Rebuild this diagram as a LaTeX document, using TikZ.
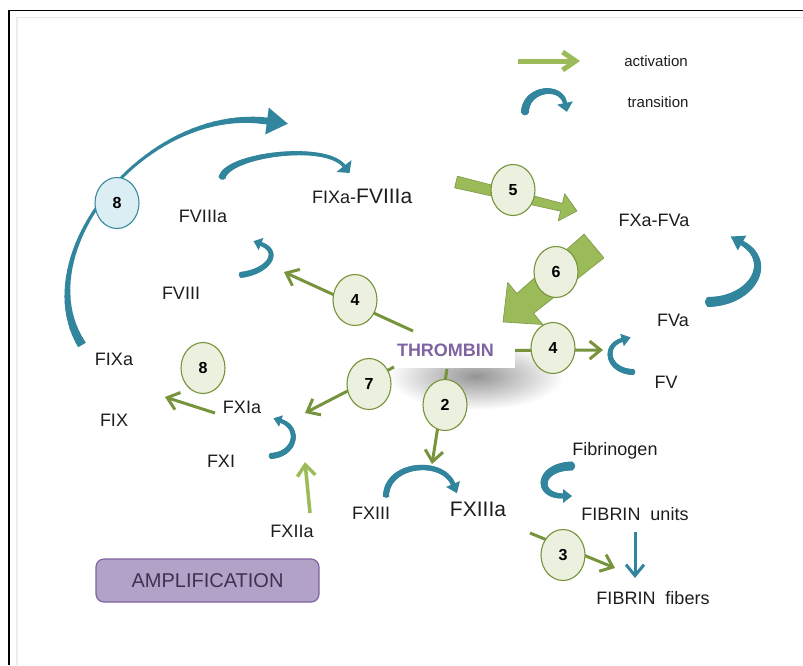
\documentclass[tikz,border=0pt]{standalone}
\usepackage{fontspec}
\setmainfont{Liberation Sans}
\usetikzlibrary{arrows.meta,shapes.geometric}

\definecolor{tealc}{HTML}{31859C}
\definecolor{dgreen}{HTML}{77933C}
\definecolor{lgreen}{HTML}{9BBB59}
\definecolor{cfill}{HTML}{EBF1DE}
\definecolor{bfill}{HTML}{DBEEF4}
\definecolor{bline}{HTML}{4BACC6}
\definecolor{purp}{HTML}{8064A2}
\definecolor{lpurp}{HTML}{B3A2C7}
\definecolor{amptxt}{HTML}{403152}
\definecolor{txt}{HTML}{1E1E1E}

\pgfkeys{/tap/.cd,
  w0/.store in=\tpwa, wm/.store in=\tpwm, w1/.store in=\tpwb,
  hl/.store in=\tphl, hw/.store in=\tphw}

% tapered bent arrow: cubic from (#2,#3) via (#4,#5),(#6,#7) to (#8,#9),
% width varies quadratically w0 -> wm -> w1, triangular head past the end
\def\tapcurve[#1](#2,#3)(#4,#5)(#6,#7)(#8,#9){%
  \pgfkeys{/tap/.cd,w0=6,wm=5,w1=4,hl=10,hw=14,#1}%
  \foreach \k in {0,...,47}{%
    \pgfmathsetmacro\tpta{\k/48}%
    \pgfmathsetmacro\tptb{(\k+1)/48}%
    \pgfmathsetmacro\tpxa{(1-\tpta)^3*(#2)+3*(1-\tpta)^2*\tpta*(#4)+3*(1-\tpta)*\tpta^2*(#6)+\tpta^3*(#8)}%
    \pgfmathsetmacro\tpya{(1-\tpta)^3*(#3)+3*(1-\tpta)^2*\tpta*(#5)+3*(1-\tpta)*\tpta^2*(#7)+\tpta^3*(#9)}%
    \pgfmathsetmacro\tpxb{(1-\tptb)^3*(#2)+3*(1-\tptb)^2*\tptb*(#4)+3*(1-\tptb)*\tptb^2*(#6)+\tptb^3*(#8)}%
    \pgfmathsetmacro\tpyb{(1-\tptb)^3*(#3)+3*(1-\tptb)^2*\tptb*(#5)+3*(1-\tptb)*\tptb^2*(#7)+\tptb^3*(#9)}%
    \pgfmathsetmacro\tpm{(\tpta+\tptb)/2}%
    \pgfmathsetmacro\tpw{\tpwa*(1-\tpm)*(1-2*\tpm)+4*\tpwm*\tpm*(1-\tpm)+\tpwb*\tpm*(2*\tpm-1)}%
    \ifnum\k=0 \def\tpcap{butt}\else\def\tpcap{round}\fi
    \draw[tealc, line width=\tpw pt, line cap=\tpcap] (\tpxa,\tpya) -- (\tpxb,\tpyb);
  }%
  \pgfmathsetmacro\tpdx{(#8)-(#6)}%
  \pgfmathsetmacro\tpdy{(#9)-(#7)}%
  \pgfmathsetmacro\tpdl{sqrt(\tpdx*\tpdx+\tpdy*\tpdy)}%
  \pgfmathsetmacro\tpux{\tpdx/\tpdl}%
  \pgfmathsetmacro\tpuy{\tpdy/\tpdl}%
  \fill[tealc] ({#8-\tpuy*\tphw/2},{#9+\tpux*\tphw/2})
    -- ({#8+\tpux*\tphl},{#9+\tpuy*\tphl})
    -- ({#8+\tpuy*\tphw/2},{#9-\tpux*\tphw/2}) -- cycle;
}

% wide straight arrow: tail (#1,#2), tip (#3,#4), tail width #5,
% shaft width at head #6, head width #7, head length #8
\newcommand\blockarrow[8]{%
  \pgfmathsetmacro\bax{(#3)-(#1)}%
  \pgfmathsetmacro\bay{(#4)-(#2)}%
  \pgfmathsetmacro\bal{sqrt(\bax*\bax+\bay*\bay)}%
  \pgfmathsetmacro\baa{atan2(-\bay,\bax)}%
  \begin{scope}[shift={(#1,#2)},rotate=\baa]
    \filldraw[fill=lgreen, draw=lgreen!80!black, line width=0.6pt, line join=round]
      (0,#5/2) -- (\bal-#8,#6/2) -- (\bal-#8,#7/2) -- (\bal,0)
      -- (\bal-#8,-#7/2) -- (\bal-#8,-#6/2) -- (0,-#5/2) -- cycle;
  \end{scope}}

\tikzset{
  lbl/.style={font=\fontsize{18}{20}\selectfont, text=txt, inner sep=0pt},
  lgd/.style={font=\fontsize{15}{17}\selectfont, text=txt, inner sep=0pt},
  num/.style={ellipse, draw=dgreen, fill=cfill, line width=1.1pt,
    minimum width=44pt, minimum height=51pt, inner sep=0pt,
    font=\bfseries\fontsize{16}{18}\selectfont},
  bnum/.style={num, draw=bline!80!black, fill=bfill},
  garrow/.style={dgreen, line width=3pt, -{Straight Barb[length=11pt,width=18pt]}},
  larrow/.style={lgreen, line width=3.5pt, -{Straight Barb[length=11pt,width=18pt]}},
  tarrow/.style={tealc, line width=3pt, -{Straight Barb[length=11pt,width=18pt]}},
}

\begin{document}
\begin{tikzpicture}[x=1pt,y=-1pt]
\useasboundingbox (0,0) rectangle (803,665);
\fill[white] (0,0) rectangle (803,665);

% frame
\draw[black!8, line width=1.5pt] (17,665) -- (17,17.5) -- (803,17.5);
\draw[black, line width=1.5pt] (9,665) -- (9,10.5) -- (803,10.5);

% soft shadow beneath the thrombin box
\shade[inner color=black!42, outer color=white] (476,376) ellipse [x radius=88pt, y radius=34pt];

\node[fill=white, minimum height=35pt, text width=114pt, inner xsep=4pt, align=left,
  text=purp, font=\bfseries\fontsize{18}{20}\selectfont] (thr) at (454,350.5) {THROMBIN};

% legend
\coordinate (lgs) at (518,61);
\coordinate (lge) at (580,61);
\draw[lgreen, line width=5pt, -{Straight Barb[length=13pt,width=18pt]}] (lgs) -- (lge);
\node[lgd] (act) at (656,61) {activation};
\tapcurve[w0=8,wm=6,w1=4,hl=9,hw=16](525,113)(525,88)(561,84)(565,103)
\node[lgd] (trn) at (658,102) {transition};

% labels
\node[lbl] (fviiia) at (203,216) {FVIIIa};
\node[lbl, anchor=base west] (tenase) at (312,203) {FIXa-{\fontsize{21}{22}\selectfont FVIIIa}};
\node[lbl] (prothr) at (654,220) {FXa-FVa};
\node[lbl] (fviii) at (181,293) {FVIII};
\node[lbl] (fva) at (673,320) {FVa};
\node[lbl] (fv) at (666,382) {FV};
\node[lbl] (fixa) at (114,359) {FIXa};
\node[lbl] (fix) at (114,420) {FIX};
\node[lbl] (fxia) at (242,407) {FXIa};
\node[lbl] (fxi) at (221,461) {FXI};
\node[lbl] (fxiia) at (292,531) {FXIIa};
\node[lbl] (fxiii) at (371,513) {FXIII};
\node[lbl, font=\fontsize{21}{22}\selectfont] (fxiiia) at (478,509) {FXIIIa};
\node[lbl] (fbg) at (615,451) {Fibrinogen};
\node[lbl] (fbu) at (635,514) {FIBRIN\ \ units};
\node[lbl] (fbf) at (653,598) {FIBRIN\ \ fibers};

\node[draw=purp, fill=lpurp, rounded corners=8pt, line width=1.2pt,
  minimum width=223pt, minimum height=43pt, text=amptxt,
  font=\fontsize{20}{22}\selectfont] (amp) at (207.5,580.5) {AMPLIFICATION};

% transitions
\tapcurve[w0=9,wm=3,w1=7,hl=21,hw=27](82,345)(25,255)(145,105)(267,121)
\tapcurve[w0=7,wm=4.5,w1=3.5,hl=9,hw=19](222,178)(226,155)(325,142)(344,166)
\tapcurve[w0=6,wm=5,w1=4,hl=8,hw=13](240,275)(268,272)(282,252)(261,244)
\tapcurve[w0=6,wm=5,w1=4,hl=9,hw=13](634,372)(608,372)(602,346)(622,340)
\tapcurve[w0=10,wm=8,w1=5,hl=13,hw=17](707,302)(752,302)(775,262)(742,243)
\tapcurve[w0=6,wm=5,w1=4,hl=8,hw=12](270,456)(296,455)(301,428)(281,421)
\tapcurve[w0=6,wm=5.5,w1=4.5,hl=10,hw=15](386,497)(386,463)(442,458)(453,484)
\tapcurve[w0=9,wm=7,w1=5,hl=9,hw=14](573,466)(538,466)(535,496)(563,496)

\coordinate (fbs) at (635,532);
\coordinate (fbe) at (635,578);
\draw[tarrow] (fbs) -- (fbe);

% wide activation arrows
\blockarrow{456}{182}{577}{211}{12}{8}{28}{16}
\blockarrow{594}{246}{503}{322}{31}{26}{55}{29}

% thrombin activations
\coordinate (a4s) at (413,331);  \coordinate (a4e) at (284,272);
\coordinate (b4e) at (603,350);
\coordinate (a7s) at (394,367);  \coordinate (a7e) at (305,413);
\coordinate (a2s) at (447,369);  \coordinate (a2e) at (432,464);
\coordinate (a8s) at (215,413);  \coordinate (a8e) at (165,397);
\coordinate (a12s) at (310,513); \coordinate (a12e) at (305,462);
\coordinate (a3s) at (530,533);  \coordinate (a3e) at (615,568);
\draw[garrow] (a4s) -- (a4e);
\draw[garrow] (thr.east) -- (b4e);
\draw[garrow] (a7s) -- (a7e);
\draw[garrow] (a2s) -- (a2e);
\draw[garrow] (a8s) -- (a8e);
\draw[larrow] (a12s) -- (a12e);
\draw[garrow] (a3s) -- (a3e);

% step numbers
\node[bnum] (n8b) at (117,203) {8};
\node[num] (n5) at (513,190) {5};
\node[num] (n6) at (556,272) {6};
\node[num] (n4a) at (355,300) {4};
\node[num] (n4b) at (553,348) {4};
\node[num] (n8g) at (203,368) {8};
\node[num] (n7) at (369,384) {7};
\node[num] (n2) at (445,405) {2};
\node[num] (n3) at (563,555) {3};
\end{tikzpicture}
\end{document}
